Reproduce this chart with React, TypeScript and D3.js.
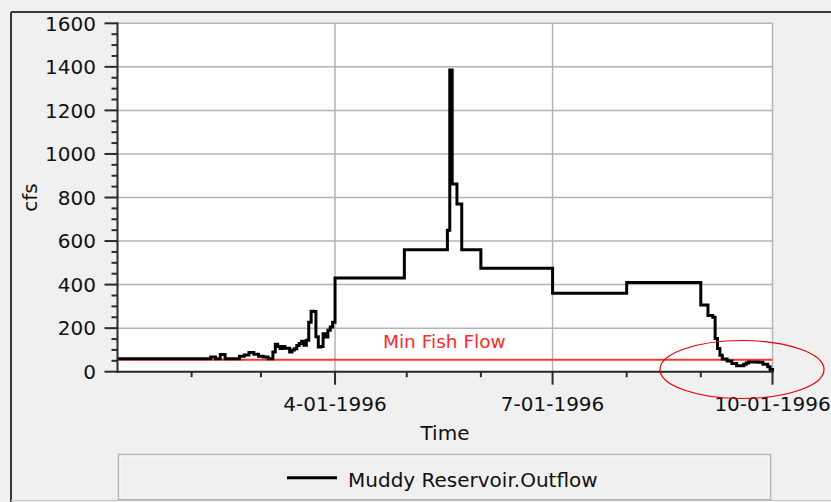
import React from 'react'
import * as d3 from 'd3'

// outflow (step series, value holds until next date)
const outflowDates = [
  '1996-01-01', '1996-02-09', '1996-02-11', '1996-02-13', '1996-02-15', '1996-02-21',
  '1996-02-23', '1996-02-25', '1996-02-27', '1996-02-29', '1996-03-02', '1996-03-04',
  '1996-03-06', '1996-03-07', '1996-03-08', '1996-03-09', '1996-03-10', '1996-03-11',
  '1996-03-13', '1996-03-14', '1996-03-15', '1996-03-16', '1996-03-17', '1996-03-18',
  '1996-03-19', '1996-03-20', '1996-03-21', '1996-03-22', '1996-03-23', '1996-03-24',
  '1996-03-25', '1996-03-26', '1996-03-27', '1996-03-28', '1996-03-29', '1996-03-30',
  '1996-03-31', '1996-04-01', '1996-04-30', '1996-05-18', '1996-05-19', '1996-05-20',
  '1996-05-22', '1996-05-24', '1996-06-01', '1996-07-01', '1996-08-01', '1996-09-01',
  '1996-09-04', '1996-09-06', '1996-09-07', '1996-09-08', '1996-09-09', '1996-09-10',
  '1996-09-12', '1996-09-14', '1996-09-16', '1996-09-18', '1996-09-19', '1996-09-20',
  '1996-09-21', '1996-09-23', '1996-09-25', '1996-09-27', '1996-09-29', '1996-09-30',
  '1996-10-01',
]
const outflowValues = [
  60, 67, 60, 79, 60, 71,
  77, 88, 80, 71, 67, 60,
  91, 126, 116, 106, 116, 108,
  90, 100, 105, 120, 130, 140,
  122, 145, 227, 278, 276, 160,
  114, 116, 174, 159, 190, 205,
  227, 430, 560, 650, 1385, 862,
  770, 560, 475, 360, 410, 306,
  258, 250, 152, 106, 76, 58,
  49, 38, 27, 27, 34, 40,
  45, 44, 43, 34, 23, 10,
  0,
]
const minFishFlow = 55
const yTicks = [0, 200, 400, 600, 800, 1000, 1200, 1400, 1600]
const xLabelTicks = ['1996-04-01', '1996-07-01', '1996-10-01']
const xTickLabels = ['4-01-1996', '7-01-1996', '10-01-1996']

const parse = d3.utcParse('%Y-%m-%d')
const FONT = '"DejaVu Sans", Verdana, sans-serif'

export default function App() {
  const left = 117.5
  const right = 772.5
  const top = 23.3
  const bottom = 371.7

  const x = d3.scaleUtc()
    .domain([parse('1996-01-01')!, parse('1996-10-01')!])
    .range([left, right])
  const y = d3.scaleLinear().domain([0, 1600]).range([bottom, top])

  const data = outflowDates.map((d, i) => ({ date: parse(d)!, value: outflowValues[i] }))
  const line = d3.line<{ date: Date, value: number }>()
    .x(d => x(d.date))
    .y(d => y(d.value))
    .curve(d3.curveStepAfter)

  const monthTicks = x.ticks(d3.utcMonth.every(1)!)
  const minorY = d3.range(0, 1601, 50).filter(v => v % 200 !== 0)

  return (
    <div style={{ position: 'absolute', left: 0, top: 0 }}>
      <svg width={831} height={502} style={{ display: 'block', background: '#f0f0f0' }}>
        {/* frame */}
        <line x1={11} y1={12} x2={831} y2={12} stroke="#3a3a3a" strokeWidth={2} />
        <line x1={11} y1={12} x2={11} y2={502} stroke="#3a3a3a" strokeWidth={2} />
        <line x1={11} y1={500.5} x2={831} y2={500.5} stroke="#c4c4c4" strokeWidth={1} />

        {/* plot area */}
        <rect x={left} y={top} width={right - left} height={bottom - top} fill="#fff" />
        {yTicks.map(v => (
          <line key={'gy' + v} x1={left} x2={right} y1={y(v)} y2={y(v)} stroke="#b4b4b4" strokeWidth={1.5} />
        ))}
        {xLabelTicks.map(d => (
          <line key={'gx' + d} x1={x(parse(d)!)} x2={x(parse(d)!)} y1={top} y2={bottom} stroke="#b4b4b4" strokeWidth={1.5} />
        ))}

        {/* min fish flow */}
        <line x1={left} x2={right} y1={y(minFishFlow)} y2={y(minFishFlow)} stroke="#ff3535" strokeWidth={2} />
        <text x={383} y={348} fill="#ff2a2a" fontFamily={FONT} fontSize={18.5}>Min Fish Flow</text>

        {/* outflow */}
        <path d={line(data) || ''} fill="none" stroke="#000" strokeWidth={3} strokeLinejoin="miter" />

        {/* y axis */}
        <line x1={left} x2={left} y1={top - 1} y2={bottom + 1} stroke="#2a2a2a" strokeWidth={2} />
        {yTicks.map(v => (
          <g key={'ty' + v}>
            <line x1={left - 13} x2={left} y1={y(v)} y2={y(v)} stroke="#2a2a2a" strokeWidth={2} />
            <text x={96} y={y(v)} dy="0.36em" textAnchor="end" fontFamily={FONT} fontSize={20} fill="#111">{v}</text>
          </g>
        ))}
        {minorY.map(v => (
          <line key={'my' + v} x1={left - 6} x2={left} y1={y(v)} y2={y(v)} stroke="#2a2a2a" strokeWidth={2} />
        ))}
        <text transform={`translate(36.5,${(top + bottom) / 2}) rotate(-90)`} textAnchor="middle" fontFamily={FONT} fontSize={20} fill="#111">cfs</text>

        {/* x axis */}
        <line x1={left - 1} x2={right + 1} y1={bottom} y2={bottom} stroke="#2a2a2a" strokeWidth={2} />
        {monthTicks.map(d => {
          const major = d.getUTCMonth() % 3 === 0
          if (d.getUTCMonth() === 0) return null
          return (
            <line key={'tx' + d.toISOString()} x1={x(d)} x2={x(d)} y1={bottom} y2={bottom + (major ? 13 : 5.5)} stroke="#2a2a2a" strokeWidth={2} />
          )
        })}
        {xLabelTicks.map((d, i) => (
          <text key={'lx' + d} x={x(parse(d)!)} y={411} textAnchor="middle" fontFamily={FONT} fontSize={20} fill="#111">{xTickLabels[i]}</text>
        ))}
        <text x={(left + right) / 2} y={440} textAnchor="middle" fontFamily={FONT} fontSize={20} fill="#111">Time</text>

        {/* annotation */}
        <ellipse cx={742} cy={369.5} rx={82} ry={29} fill="none" stroke="#e00000" strokeWidth={1.2} />

        {/* legend */}
        <rect x={118.5} y={454.5} width={652} height={45} fill="#f0f0f0" stroke="#b4b4b4" strokeWidth={1.5} />
        <rect x={120} y={456} width={649} height={42} fill="none" stroke="#fafafa" strokeWidth={1} />
        <line x1={287} x2={337} y1={477.7} y2={477.7} stroke="#000" strokeWidth={3} />
        <text x={348} y={487} fontFamily={FONT} fontSize={20} fill="#111">Muddy Reservoir.Outflow</text>
      </svg>
    </div>
  )
}
